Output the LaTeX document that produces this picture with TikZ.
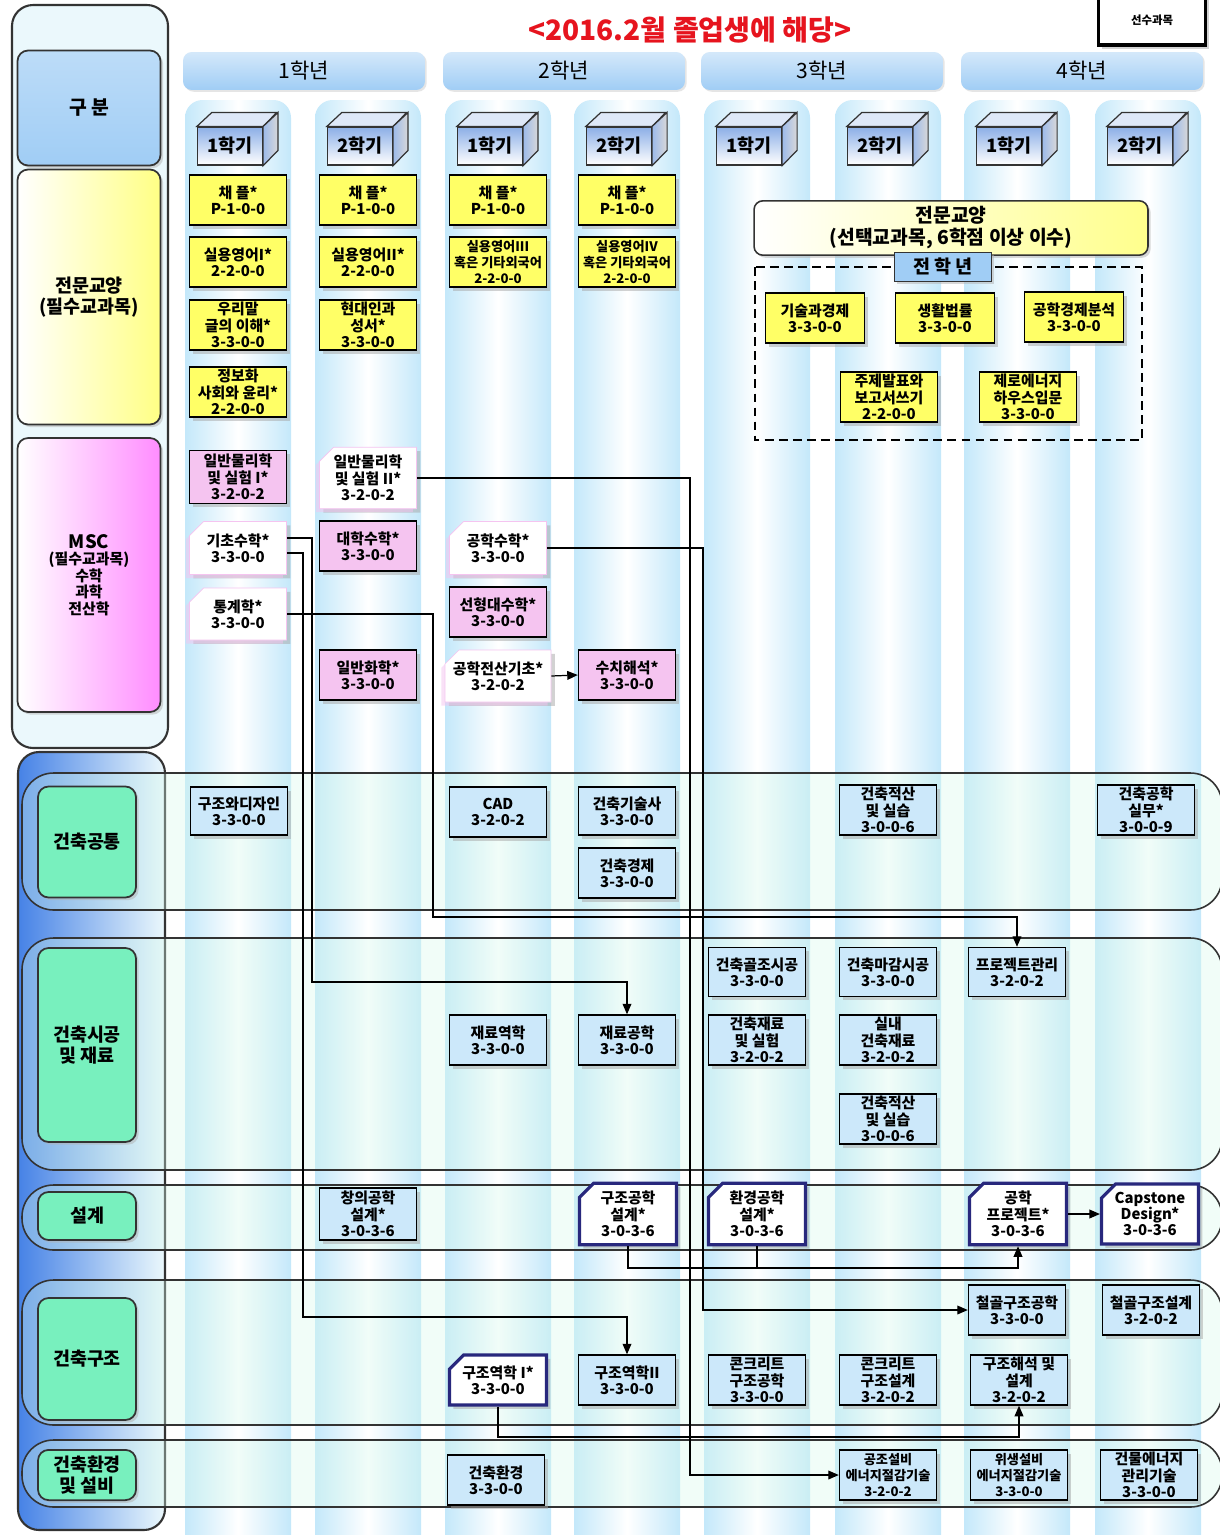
\documentclass[tikz,border=0pt]{standalone}
\usepackage{fontspec}
\setmainfont{Noto Sans CJK KR}
\usepackage{xcolor}
\definecolor{boxyellow}{RGB}{255,255,102}
\definecolor{boxpink}{RGB}{245,196,240}
\definecolor{boxsky}{RGB}{204,232,250}
\definecolor{mint}{RGB}{120,240,190}
\definecolor{stripeblue}{RGB}{196,232,250}
\definecolor{headblue}{RGB}{160,205,245}
\definecolor{cubeblue}{RGB}{90,140,220}
\definecolor{navy}{RGB}{40,40,125}
\definecolor{leftblue}{RGB}{70,130,230}
\definecolor{panelcyan}{RGB}{235,248,252}
\definecolor{titlered}{RGB}{230,20,30}
\usepackage{tikz}
\usetikzlibrary{arrows.meta,positioning,shapes.misc,shadows,calc}
\newcommand\crsfont{\fontsize{8.5}{9.3}\selectfont\bfseries}
\newcommand\longfont{\fontsize{7.5}{9.3}\selectfont\bfseries}
\tikzset{
  >={Triangle[length=6pt,width=5pt]},
  stripe/.style={left color=stripeblue,right color=stripeblue,middle color=white,rounded corners=10pt},
  panel/.style={draw=black!80,line width=1.2pt,rounded corners=12pt},
  rowband/.style={draw=black!80,line width=0.9pt,rounded corners=18pt,fill=mint!30,fill opacity=0.35},
  catbox/.style={rectangle,draw=black!80,line width=1pt,rounded corners=6pt,minimum width=2.86cm,align=center,font=\fontsize{10.5}{12}\selectfont\bfseries,drop shadow={shadow xshift=1.5pt,shadow yshift=-1.5pt,fill=gray!60}},
  areabox/.style={catbox,fill=mint,minimum width=1.96cm},
  yearbox/.style={rectangle,rounded corners=5pt,top color=headblue!45,bottom color=headblue,minimum width=4.84cm,minimum height=0.76cm,font=\fontsize{12}{14}\selectfont,drop shadow={shadow xshift=1pt,shadow yshift=-1pt,fill=gray!40}},
  semface/.style={rectangle,draw=black!80,line width=0.7pt,top color=cubeblue!70,bottom color=white,minimum width=1.3cm,minimum height=0.76cm,inner sep=0pt,font=\fontsize{10.5}{12}\selectfont\bfseries},
  cubetop/.style={draw=black!80,line width=0.7pt,fill=cubeblue!20},
  cubeside/.style={draw=black!80,line width=0.7pt,left color=cubeblue!60,right color=gray!30},
  course/.style={rectangle,draw=black,line width=0.8pt,minimum width=1.94cm,minimum height=1cm,inner sep=0.5pt,align=center,font=\crsfont,drop shadow={shadow xshift=2.2pt,shadow yshift=-2.2pt,fill=gray!70}},
  cultbox/.style={course,fill=boxyellow},
  mscbox/.style={course,fill=boxpink},
  archbox/.style={course,fill=boxsky},
  msccard/.style={course,chamfered rectangle,chamfered rectangle corners=north west,chamfered rectangle xsep=4pt,chamfered rectangle ysep=4pt,draw=boxpink,line width=0.4pt,fill=white,drop shadow={shadow xshift=-2pt,shadow yshift=-2pt,fill=boxpink}},
  designcard/.style={course,chamfered rectangle,chamfered rectangle corners=north west,chamfered rectangle xsep=4pt,chamfered rectangle ysep=4pt,draw=navy,line width=1.8pt,fill=white},
  link/.style={draw=black,line width=0.7pt},
  prereq/.style={link,->}
}

\begin{document}
\begin{tikzpicture}[x=0.02cm,y=-0.02cm]
  \useasboundingbox (0,0) rectangle (1220,1535);
  \fill[white] (0,0) rectangle (1220,1535);

  % semester stripes
  \foreach \cx in {238,368,498,627,757,888,1017,1148}
    \shade[stripe] (\cx-53,100) rectangle (\cx+53,1580);

  % left panels
  \draw[panel,fill=panelcyan] (12,5) rectangle (168,748);
  \shadedraw[panel,left color=leftblue,right color=panelcyan] (18,752) rectangle (165,1530);

  % row bands of the major area
  \foreach \ya/\yb in {773/910,938/1170,1185/1250,1280/1425,1440/1507}
    \draw[rowband] (22,\ya) rectangle (1222,\yb);

  % categories
  \node[catbox,top color=headblue!70,bottom color=headblue,minimum height=2.3cm,font=\fontsize{11}{13}\selectfont\bfseries] (gubun) at (89,108) {구 분};
  \node[catbox,left color=white,right color=boxyellow!80,minimum height=5.1cm] (cultreq) at (89,297) {전문교양\\(필수교과목)};
  \node[catbox,left color=white,right color=magenta!45,minimum height=5.48cm,font=\fontsize{8.5}{9.4}\selectfont\bfseries] (msc) at (89,575) {{\fontsize{10.5}{11}\selectfont MSC}\\(필수교과목)\\수학\\과학\\전산학};
  \node[areabox,minimum height=2.22cm] (common) at (87,842) {건축공통};
  \node[areabox,minimum height=3.88cm] (constr) at (87,1045) {건축시공\\및 재료};
  \node[areabox,minimum height=0.96cm] (design) at (87,1216) {설계};
  \node[areabox,minimum height=2.44cm] (struct) at (87,1359) {건축구조};
  \node[areabox,minimum height=1.0cm] (envir) at (87,1475) {건축환경\\및 설비};

  % title and key
  \node[font=\fontsize{16}{18}\selectfont\bfseries,text=titlered] (title) at (690,30) {<2016.2월 졸업생에 해당>};
  \node[rectangle,draw=black,line width=2pt,fill=white,minimum width=2.14cm,minimum height=1cm,font=\fontsize{6.5}{8}\selectfont\bfseries,drop shadow={shadow xshift=2pt,shadow yshift=-2pt,fill=gray!70}] (key) at (1152,20) {선수과목};

  % years and semesters
  \foreach \cx/\yr in {304/1,564/2,822/3,1082/4}
    \node[yearbox] (year\yr) at (\cx,71) {\yr{}학년};
  \foreach \cx/\sm [count=\k] in {238/1,368/2,498/1,627/2,757/1,888/2,1017/1,1148/2}{
    \node[semface] (sem\k) at (\cx-8,146) {\sm{}학기};
    \draw[cubetop] (sem\k.north west) -- ++(15,-14) -- ++(65,0) -- (sem\k.north east) -- cycle;
    \draw[cubeside] (sem\k.north east) -- ++(15,-14) -- ++(0,38) -- (sem\k.south east) -- cycle;
  }

  % general education (required)
  \node[cultbox] (chapelA) at (238,200) {채 플*\\P-1-0-0};
  \node[cultbox] (chapelB) at (368,200) {채 플*\\P-1-0-0};
  \node[cultbox] (chapelC) at (498,200) {채 플*\\P-1-0-0};
  \node[cultbox] (chapelD) at (627,200) {채 플*\\P-1-0-0};
  \node[cultbox] (engA) at (238,262) {실용영어I*\\2-2-0-0};
  \node[cultbox] (engB) at (368,262) {실용영어II*\\2-2-0-0};
  \node[cultbox,font=\longfont] (engC) at (498,262) {실용영어III\\혹은 기타외국어\\2-2-0-0};
  \node[cultbox,font=\longfont] (engD) at (627,262) {실용영어IV\\혹은 기타외국어\\2-2-0-0};
  \node[cultbox] (korean) at (238,325) {우리말\\글의 이해*\\3-3-0-0};
  \node[cultbox] (bible) at (368,325) {현대인과\\성서*\\3-3-0-0};
  \node[cultbox] (info) at (238,392) {정보화\\사회와 윤리*\\2-2-0-0};

  % general education (elective)
  \draw[line width=0.9pt,dash pattern=on 5pt off 3pt] (755,267) rectangle (1142,440);
  \node[rectangle,rounded corners=5pt,draw=black!80,line width=0.9pt,left color=white,right color=boxyellow!75,minimum width=7.88cm,minimum height=1.02cm,align=center,font=\fontsize{11}{12.5}\selectfont\bfseries,drop shadow={shadow xshift=1.5pt,shadow yshift=-1.5pt,fill=gray!60}] (elect) at (951,228) {전문교양\\(선택교과목, 6학점 이상 이수)};
  \node[rectangle,draw=black!80,line width=0.8pt,fill=headblue,minimum width=1.94cm,minimum height=0.52cm,font=\fontsize{10.5}{12}\selectfont\bfseries,drop shadow={shadow xshift=1.5pt,shadow yshift=-1.5pt,fill=gray!60}] (allyear) at (943,267) {전 학 년};
  \node[cultbox,minimum width=1.98cm] (techecon) at (815,318) {기술과경제\\3-3-0-0};
  \node[cultbox,minimum width=1.98cm] (law) at (945,318) {생활법률\\3-3-0-0};
  \node[cultbox,minimum width=1.98cm] (engecon) at (1074,317) {공학경제분석\\3-3-0-0};
  \node[cultbox] (present) at (889,397) {주제발표와\\보고서쓰기\\2-2-0-0};
  \node[cultbox] (zero) at (1028,397) {제로에너지\\하우스입문\\3-3-0-0};

  % MSC
  \node[mscbox,minimum height=1.06cm] (physA) at (238,477) {일반물리학\\및 실험 I*\\3-2-0-2};
  \node[msccard,minimum height=1.06cm] (physB) at (368,478) {일반물리학\\및 실험 II*\\3-2-0-2};
  \node[msccard,minimum height=1.06cm] (basic) at (238,548) {기초수학*\\3-3-0-0};
  \node[mscbox] (unimath) at (368,546) {대학수학*\\3-3-0-0};
  \node[msccard,minimum height=1.04cm] (stat) at (238,614) {통계학*\\3-3-0-0};
  \node[mscbox] (chem) at (368,675) {일반화학*\\3-3-0-0};
  \node[msccard,minimum height=1.06cm] (engmath) at (498,548) {공학수학*\\3-3-0-0};
  \node[mscbox] (linalg) at (498,612) {선형대수학*\\3-3-0-0};
  \node[msccard,minimum height=1.04cm] (cbase) at (498,676) {공학전산기초*\\3-2-0-2};
  \node[mscbox] (num) at (627,675) {수치해석*\\3-3-0-0};

  % architecture common
  \node[archbox,minimum height=0.96cm] (structdes) at (239,811) {구조와디자인\\3-3-0-0};
  \node[archbox] (cad) at (498,812) {CAD\\3-2-0-2};
  \node[archbox,minimum height=0.96cm] (archeng) at (627,811) {건축기술사\\3-3-0-0};
  \node[archbox] (archecon) at (627,873) {건축경제\\3-3-0-0};
  \node[archbox] (estimA) at (888,810) {건축적산\\및 실습\\3-0-0-6};
  \node[archbox] (practice) at (1146,810) {건축공학\\실무*\\3-0-0-9};

  % construction and materials
  \node[archbox,minimum height=0.98cm] (frame) at (757,972) {건축골조시공\\3-3-0-0};
  \node[archbox,minimum height=0.98cm] (finish) at (888,972) {건축마감시공\\3-3-0-0};
  \node[archbox,minimum height=0.98cm] (proj) at (1017,972) {프로젝트관리\\3-2-0-2};
  \node[archbox] (matexp) at (757,1040) {건축재료\\및 실험\\3-2-0-2};
  \node[archbox] (interior) at (888,1040) {실내\\건축재료\\3-2-0-2};
  \node[archbox] (estimB) at (888,1119) {건축적산\\및 실습\\3-0-0-6};
  \node[archbox] (mech) at (498,1040) {재료역학\\3-3-0-0};
  \node[archbox] (matsci) at (627,1040) {재료공학\\3-3-0-0};

  % design
  \node[archbox,minimum height=1.04cm] (creative) at (368,1214) {창의공학\\설계*\\3-0-3-6};
  \node[designcard] (sdes) at (628,1214) {구조공학\\설계*\\3-0-3-6};
  \node[designcard] (edes) at (757,1214) {환경공학\\설계*\\3-0-3-6};
  \node[designcard] (eproj) at (1018,1214) {공학\\프로젝트*\\3-0-3-6};
  \node[designcard] (capst) at (1150,1214) {Capstone\\Design*\\3-0-3-6};

  % structures
  \node[archbox] (steel) at (1017,1310) {철골구조공학\\3-3-0-0};
  \node[archbox] (steeldes) at (1151,1310) {철골구조설계\\3-2-0-2};
  \node[designcard] (strA) at (498,1380) {구조역학 I*\\3-3-0-0};
  \node[archbox] (strB) at (627,1380) {구조역학II\\3-3-0-0};
  \node[archbox] (conc) at (757,1380) {콘크리트\\구조공학\\3-3-0-0};
  \node[archbox] (concdes) at (888,1380) {콘크리트\\구조설계\\3-2-0-2};
  \node[archbox] (sana) at (1019,1380) {구조해석 및\\설계\\3-2-0-2};

  % environment and services
  \node[archbox] (archenv) at (496,1480) {건축환경\\3-3-0-0};
  \node[archbox,font=\longfont] (hvac) at (888,1475) {공조설비\\에너지절감기술\\3-2-0-2};
  \node[archbox,font=\longfont] (plumb) at (1019,1475) {위생설비\\에너지절감기술\\3-3-0-0};
  \node[archbox] (bems) at (1149,1475) {건물에너지\\관리기술\\3-3-0-0};

  % prerequisite lines
  \coordinate (bendP) at (690,478);
  \coordinate (bendA) at (312,982);
  \coordinate (bendB) at (303,1317);
  \coordinate (bendC) at (433,917);
  \coordinate (bendD) at (703,1310);
  \coordinate (bendE) at (1018,1268);
  \coordinate (bendF) at (1019,1437);
  \draw[prereq] (physB.east) -- (bendP) |- (hvac.west);
  \draw[prereq] ($(basic.east)+(0,-10)$) -| (bendA) -| (matsci.north);
  \draw[prereq] ($(basic.east)+(0,5)$) -| (bendB) -| (strB.north);
  \draw[prereq] (stat.east) -| (bendC) -| (proj.north);
  \draw[prereq] (engmath.east) -| (bendD) -- (steel.west);
  \draw[prereq] (cbase.east) -- (num.west);
  \draw[prereq] (sdes.south) |- (bendE) -- (eproj.south);
  \draw[link] (edes.south) -- (edes.south |- bendE);
  \draw[prereq] (eproj.east) -- (capst.west);
  \draw[prereq] (strA.south) |- (bendF) -- (sana.south);
\end{tikzpicture}
\end{document}
